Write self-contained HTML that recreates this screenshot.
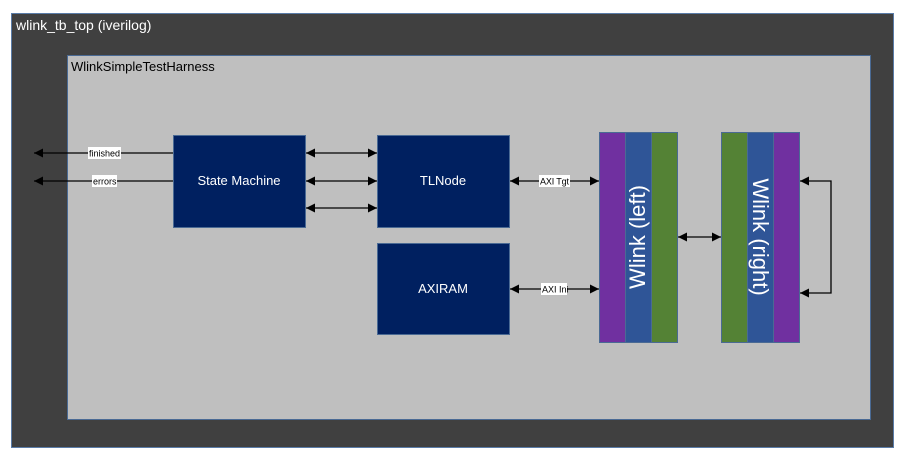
<!DOCTYPE html>
<html><head><meta charset="utf-8"><style>
html,body{margin:0;padding:0;background:#fff;width:916px;height:464px;overflow:hidden}
svg text{font-family:"Liberation Sans",sans-serif}
</style></head><body>
<svg width="916" height="464" viewBox="0 0 916 464" xmlns="http://www.w3.org/2000/svg">
<defs>
<marker id="a" viewBox="0 0 10 10" refX="10" refY="5" markerWidth="12" markerHeight="9" orient="auto-start-reverse" markerUnits="userSpaceOnUse"><path d="M0,0L10,5L0,10z" fill="#000"/></marker>
</defs>
<rect x="11.5" y="13.5" width="882" height="434" fill="#404040" stroke="#5a7ca8" stroke-width="1"/>
<text x="16" y="30" font-size="14" fill="#fff">wlink_tb_top (iverilog)</text>
<rect x="67.5" y="55.5" width="803" height="364" fill="#bfbfbf" stroke="#4a6a94" stroke-width="1"/>
<text x="71" y="71" font-size="13" fill="#000">WlinkSimpleTestHarness</text>

<rect x="173.5" y="135.5" width="132" height="92" fill="#002060" stroke="#4a6a94"/>
<text x="239" y="185" font-size="13" fill="#fff" text-anchor="middle">State Machine</text>
<rect x="377.5" y="135.5" width="132" height="92" fill="#002060" stroke="#4a6a94"/>
<text x="443" y="185" font-size="13" fill="#fff" text-anchor="middle">TLNode</text>
<rect x="377.5" y="243.5" width="132" height="91" fill="#002060" stroke="#4a6a94"/>
<text x="443" y="293" font-size="13" fill="#fff" text-anchor="middle">AXIRAM</text>

<g stroke="#4a6a94" stroke-width="1">
<rect x="599.5" y="132.5" width="26" height="210" fill="#7030a0"/>
<rect x="625.5" y="132.5" width="26" height="210" fill="#2f5597"/>
<rect x="651.5" y="132.5" width="26" height="210" fill="#548235"/>
<rect x="721.5" y="132.5" width="26" height="210" fill="#548235"/>
<rect x="747.5" y="132.5" width="26" height="210" fill="#2f5597"/>
<rect x="773.5" y="132.5" width="26" height="210" fill="#7030a0"/>
</g>
<text transform="translate(645,237) rotate(-90)" font-size="22" fill="#fff" text-anchor="middle">Wlink (left)</text>
<text transform="translate(753,237) rotate(90)" font-size="22" fill="#fff" text-anchor="middle">Wlink (right)</text>

<g stroke="#000" stroke-width="1.3" fill="none">
<line x1="173" y1="153" x2="34" y2="153" marker-end="url(#a)"/>
<line x1="173" y1="181" x2="34" y2="181" marker-end="url(#a)"/>
<line x1="306" y1="153" x2="377" y2="153" marker-start="url(#a)" marker-end="url(#a)"/>
<line x1="306" y1="181" x2="377" y2="181" marker-start="url(#a)" marker-end="url(#a)"/>
<line x1="306" y1="208" x2="377" y2="208" marker-start="url(#a)" marker-end="url(#a)"/>
<line x1="510" y1="181" x2="599" y2="181" marker-start="url(#a)" marker-end="url(#a)"/>
<line x1="510" y1="289" x2="599" y2="289" marker-start="url(#a)" marker-end="url(#a)"/>
<line x1="678" y1="237" x2="721" y2="237" marker-start="url(#a)" marker-end="url(#a)"/>
<polyline points="800,181 831,181 831,293 800,293" marker-start="url(#a)" marker-end="url(#a)"/>
</g>
<g font-size="9" fill="#000">
<rect x="88" y="147" width="33" height="12" fill="#fff"/><text x="89" y="156.5">finished</text>
<rect x="92" y="175" width="25" height="12" fill="#fff"/><text x="93" y="184.5">errors</text>
<rect x="539" y="175" width="31" height="12" fill="#fff"/><text x="540" y="184.5" textLength="29">AXI Tgt</text>
<rect x="541" y="283" width="26" height="12" fill="#fff"/><text x="542" y="292.5">AXI Ini</text>
</g>
</svg>
</body></html>
